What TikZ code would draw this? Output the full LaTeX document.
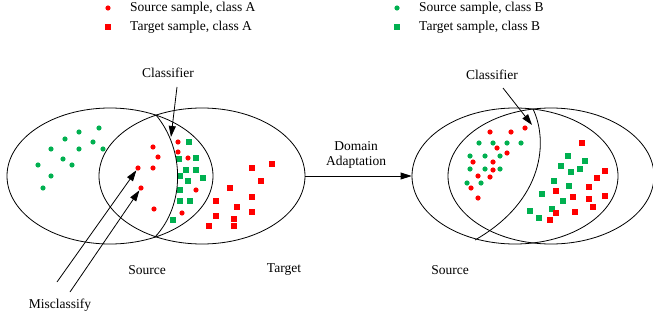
\documentclass[tikz,border=0pt]{standalone}
\usepackage{fontspec}
\setmainfont{Liberation Serif}
\usetikzlibrary{arrows.meta,positioning,shapes.geometric}
\definecolor{clsA}{RGB}{255,0,0}
\definecolor{clsB}{RGB}{0,176,80}
\tikzset{
  domain set/.style={ellipse,draw,line width=0.8pt,minimum width=206pt,minimum height=136pt,inner sep=0pt},
  src pt/.style={circle,fill,minimum size=5.2pt,inner sep=0pt},
  tgt pt/.style={rectangle,fill,minimum size=6.2pt,inner sep=0pt},
  lbl/.style={font=\fontsize{13.5}{16}\selectfont,inner sep=1pt},
  pointer/.style={-{Triangle[length=11pt,width=7pt]},line width=0.8pt},
}
\begin{document}
\begin{tikzpicture}[x=1pt,y=-1pt]
\useasboundingbox (0,0) rectangle (653,321);
% legend
\node[src pt,clsA] (kA1) at (108,8) {};
\node[tgt pt,clsA] (kA2) at (108,27) {};
\node[src pt,clsB] (kB1) at (397,8) {};
\node[tgt pt,clsB] (kB2) at (397,27) {};
\node[lbl,anchor=west] at (129,8) {Source sample, class A};
\node[lbl,anchor=west] at (129,27) {Target sample, class A};
\node[lbl,anchor=west] at (418,8) {Source sample, class B};
\node[lbl,anchor=west] at (418,27) {Target sample, class B};
% before adaptation
\node[domain set] (srcL) at (110,176) {};
\node[domain set] (tgtL) at (202,176) {};
\node[lbl] (srcLtxt) at (147,270) {Source};
\node[lbl] (tgtLtxt) at (284,270) {Target};
\foreach \x/\y [count=\i] in {99/128,79/132,65/139,93/142,79/149,51/149,103/149,63/159,72/165,38/165,51/176,43/188}
  \node[src pt,clsB] (lb\i) at (\x,\y) {};
\foreach \x/\y [count=\i] in {153/147,158/157,138/168,153/168,141/188,154/209,178/142,178/152,188/158,196/190,182/213}
  \node[src pt,clsA] (la\i) at (\x,\y) {};
\foreach \x/\y [count=\i] in {189/142,179/159,196/158,186/170,196/170,180/176,188/181,203/178,180/190,180/201,190/201,173/220}
  \node[tgt pt,clsB] (lq\i) at (\x,\y) {};
\foreach \x/\y [count=\i] in {272/164,252/168,261/181,230/188,252/197,216/201,237/207,252/212,216/216,234/219,209/226,234/226}
  \node[tgt pt,clsA] (lr\i) at (\x,\y) {};
\coordinate (cutLtop) at (156,115);
\coordinate (cutLbot) at (155,237);
\draw[line width=0.8pt] (cutLtop) .. controls (185,150) and (185,205) .. (cutLbot);
\node[lbl] (clsLtxt) at (168,73) {Classifier};
\coordinate (clsLtail) at (177,87);
\coordinate (clsLtip) at (171,137);
\draw[pointer] (clsLtail) -- (clsLtip);
\node[lbl] (missTxt) at (60,305) {Misclassify};
\coordinate (miss1) at (57,282);
\coordinate (miss2) at (70,292);
\draw[pointer] (miss1) -- (la3);
\draw[pointer] (miss2) -- (la5);
% adaptation arrow
\node[domain set] (srcR) at (515,176) {};
\node[domain set] (tgtR) at (551,176) {};
\draw[pointer] (tgtL.east) -- (srcR.west);
\node[lbl] (adaTxt1) at (356,146) {Domain};
\node[lbl] (adaTxt2) at (356,162) {Adaptation};
% after adaptation
\node[lbl] (srcRtxt) at (450,270) {Source};
\foreach \x/\y [count=\i] in {490/132,511/132,525/128,497/148,507/153,473/162,493/162,493/170,478/176,490/177,471/188,478/198}
  \node[src pt,clsA] (ra\i) at (\x,\y) {};
\foreach \x/\y [count=\i] in {479/143,493/143,507/143,521/143,470/156,485/156,500/156,470/169,485/169,500/169,467/183,481/183}
  \node[src pt,clsB] (rb\i) at (\x,\y) {};
\foreach \x/\y [count=\i] in {568/156,585/161,561/166,580/169,571/172,554/181,569/186,542/194,563/201,530/211,552/209,539/218}
  \node[tgt pt,clsB] (rq\i) at (\x,\y) {};
\foreach \x/\y [count=\i] in {582/143,605/171,597/178,589/187,556/191,573/197,589/199,605/196,593/207,575/212,556/213,550/220}
  \node[tgt pt,clsA] (rr\i) at (\x,\y) {};
\coordinate (cutRtop) at (533,109);
\coordinate (cutRbot) at (475,240);
\draw[line width=0.8pt] (cutRtop) .. controls (548,140) and (545,200) .. (cutRbot);
\node[lbl] (clsRtxt) at (492,75) {Classifier};
\coordinate (clsRtail) at (503,88);
\coordinate (clsRtip) at (532,125);
\draw[pointer] (clsRtail) -- (clsRtip);
\end{tikzpicture}
\end{document}
